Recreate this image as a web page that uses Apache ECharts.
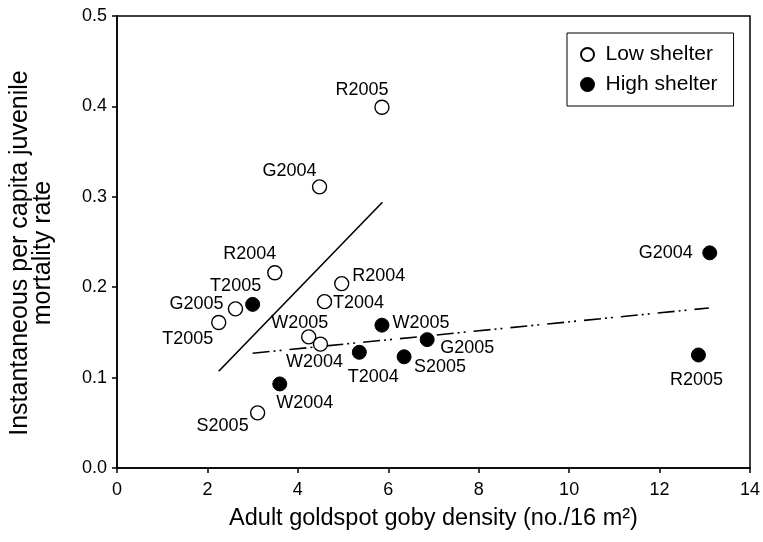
<!DOCTYPE html>
<html>
<head>
<meta charset="utf-8">
<script src="https://cdn.jsdelivr.net/npm/echarts@6/dist/echarts.min.js"></script>
<style>
html,body{margin:0;padding:0;background:#fff;}
#chart{width:763px;height:542px;}
</style>
</head>
<body>
<div id="chart"></div>
<script>
// ---- data ----
const xTicks = [0, 2, 4, 6, 8, 10, 12, 14];
const yTicks = [0.0, 0.1, 0.2, 0.3, 0.4, 0.5];

const lowNames = ['R2005', 'G2004', 'R2004', 'G2005', 'T2005', 'R2004', 'T2004', 'W2005', 'W2004', 'S2005'];
const lowX     = [5.86, 4.48, 3.49, 2.62, 2.25, 4.97, 4.59, 4.24, 4.50, 3.11];
const lowY     = [0.399, 0.311, 0.216, 0.176, 0.161, 0.204, 0.184, 0.145, 0.137, 0.061];

const highNames = ['T2005', 'W2004', 'W2005', 'T2004', 'S2005', 'G2005', 'G2004', 'R2005'];
const highX     = [3.00, 3.60, 5.86, 5.36, 6.35, 6.86, 13.11, 12.86];
const highY     = [0.181, 0.093, 0.158, 0.128, 0.123, 0.142, 0.238, 0.125];

const lowFitX  = [2.25, 5.87];
const lowFitY  = [0.107, 0.294];
const highFitX = [3.00, 13.09];
const highFitY = [0.127, 0.177];

// label placements (pixel offsets from marker centre)
const lowLabelOffsets  = [[-20,-17],[-30,-16],[-25,-19],[-39,-5],[-31,17],[37,-8],[34,1],[-9,-14],[-6,18],[-35,13]];
const highLabelOffsets = [[-17,-18],[25,19],[39,-2],[14,25],[36,10],[40,8],[-44,0],[-2,25]];

const FONT = "'Liberation Sans', Arial, Helvetica, sans-serif";

function pts(xs, ys, names, offs) {
  return xs.map((x, i) => ({
    value: [x, ys[i]],
    name: names[i],
    label: { offset: offs[i] }
  }));
}

const chart = echarts.init(document.getElementById('chart'), null, { renderer: 'canvas' });
chart.setOption({
  backgroundColor: '#fff',
  animation: false,
  textStyle: { fontFamily: FONT, color: '#000' },
  grid: {
    left: 116, right: 10, top: 16, bottom: 74,
    show: true, borderColor: '#000', borderWidth: 1.5, backgroundColor: 'transparent'
  },
  legend: {
    data: ['Low shelter', 'High shelter'],
    orient: 'vertical',
    left: 567, top: 33,
    padding: [11, 16, 11, 13],
    itemWidth: 26, itemHeight: 13, itemGap: 9,
    borderColor: '#000', borderWidth: 1,
    backgroundColor: '#fff',
    textStyle: { fontSize: 21, color: '#000', fontFamily: FONT, lineHeight: 20 }
  },
  xAxis: {
    type: 'value', min: xTicks[0], max: xTicks[xTicks.length - 1], interval: 2,
    name: 'Adult goldspot goby density (no./16 m\u00B2)',
    nameLocation: 'middle', nameGap: 39,
    nameTextStyle: { fontSize: 23.5, color: '#000', fontFamily: FONT },
    axisLine: { lineStyle: { color: '#000', width: 1.5 } },
    axisTick: { show: true, inside: false, length: 5, lineStyle: { color: '#000', width: 1.5 } },
    axisLabel: { fontSize: 18, color: '#000', margin: 13, fontFamily: FONT },
    splitLine: { show: false }
  },
  yAxis: {
    type: 'value', min: yTicks[0], max: yTicks[yTicks.length - 1], interval: 0.1,
    name: 'Instantaneous per capita juvenile\nmortality rate',
    nameLocation: 'middle', nameGap: 62, nameRotate: 90,
    nameTextStyle: { fontSize: 25, color: '#000', fontFamily: FONT, lineHeight: 23, padding: [0, 22, 0, 0] },
    axisLine: { lineStyle: { color: '#000', width: 1.5 } },
    axisTick: { show: true, inside: false, length: 5, lineStyle: { color: '#000', width: 1.5 } },
    axisLabel: { fontSize: 18, color: '#000', margin: 10, fontFamily: FONT, formatter: v => v.toFixed(1) },
    splitLine: { show: false }
  },
  series: [
    {
      type: 'line', name: 'lowFit', silent: true, symbol: 'none', z: 1,
      data: lowFitX.map((x, i) => [x, lowFitY[i]]),
      lineStyle: { color: '#000', width: 1.6, type: 'solid' }
    },
    {
      type: 'line', name: 'highFit', silent: true, symbol: 'none', z: 1,
      data: highFitX.map((x, i) => [x, highFitY[i]]),
      lineStyle: { color: '#000', width: 1.6, type: [17, 4, 2, 4, 2, 8] }
    },
    {
      type: 'scatter', name: 'Low shelter', symbol: 'circle', symbolSize: 14, z: 3,
      itemStyle: { color: '#fff', borderColor: '#000', borderWidth: 1.4, opacity: 1 },
      label: { show: true, position: 'inside', formatter: p => p.name, fontSize: 18, color: '#000', fontFamily: FONT, align: 'center', verticalAlign: 'middle' },
      data: pts(lowX, lowY, lowNames, lowLabelOffsets)
    },
    {
      type: 'scatter', name: 'High shelter', symbol: 'circle', symbolSize: 14, z: 3,
      itemStyle: { color: '#000', borderColor: '#000', borderWidth: 1, opacity: 1 },
      label: { show: true, position: 'inside', formatter: p => p.name, fontSize: 18, color: '#000', fontFamily: FONT, align: 'center', verticalAlign: 'middle' },
      data: pts(highX, highY, highNames, highLabelOffsets)
    }
  ]
});
</script>
</body>
</html>
